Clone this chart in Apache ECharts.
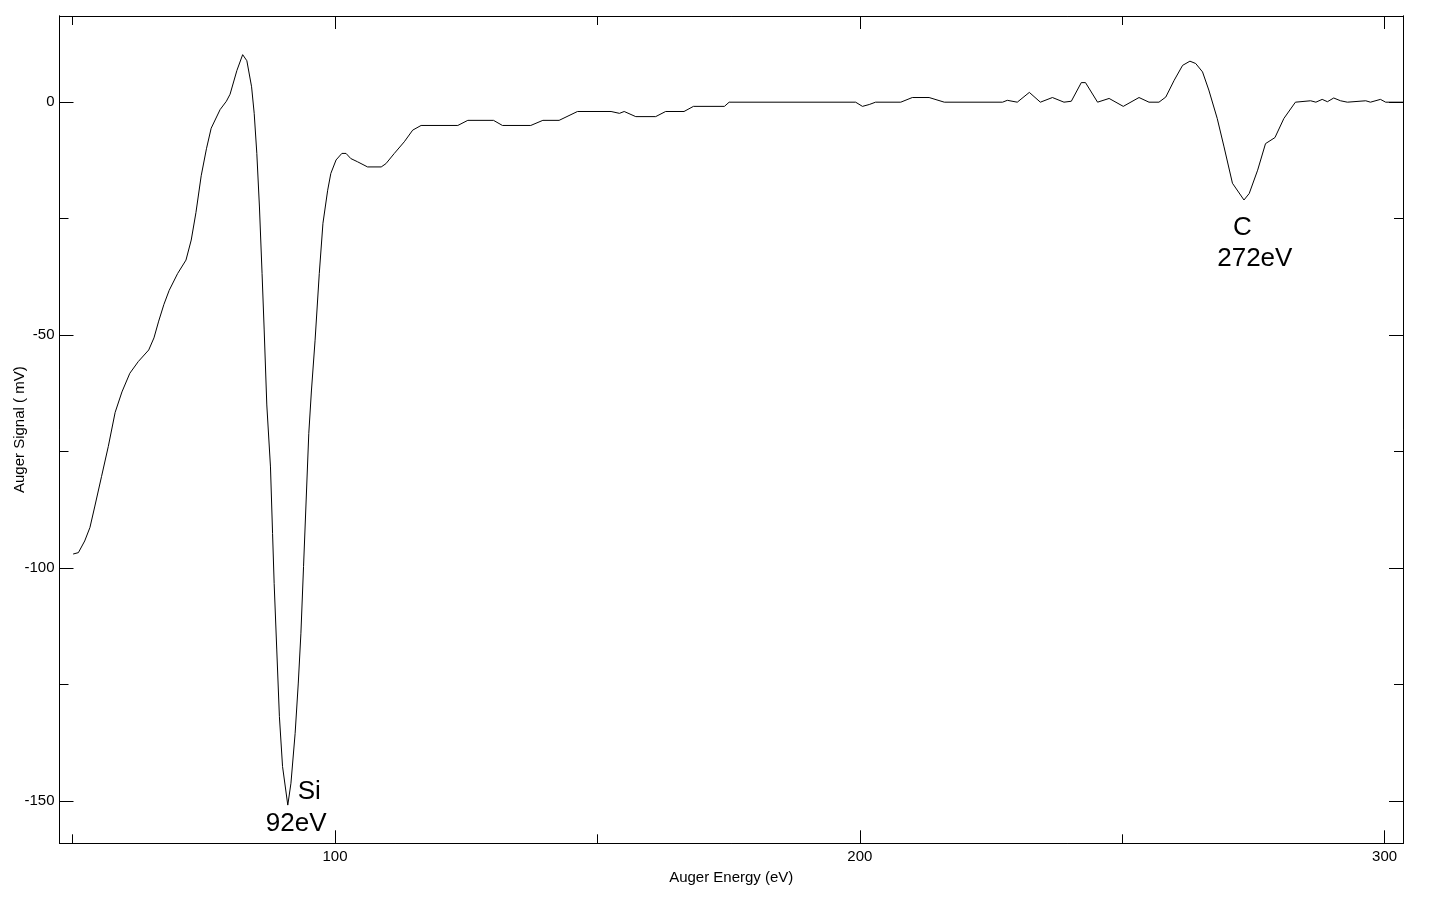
<!DOCTYPE html>
<html>
<head>
<meta charset="utf-8">
<script src="https://cdn.jsdelivr.net/npm/echarts@6/dist/echarts.min.js"></script>
<style>
  html, body { margin: 0; padding: 0; background: #fff; }
  #chart { width: 1454px; height: 924px; }
</style>
</head>
<body>
<div id="chart"></div>
<script>
// Auger energy (eV)
const energy = [
  50.1, 51.1, 52.3, 53.3, 54.2, 55.5, 56.8, 58.1, 59.4, 60.9,
  62.5, 64.5, 65.5, 66.4, 67.4, 68.4, 70.0, 71.6, 72.6, 73.5,
  74.5, 75.5, 76.4, 78.1, 79.3, 80.0, 81.3, 82.4, 83.2, 84.1,
  84.6, 85.1, 85.6, 86.1, 86.5, 87.0, 87.7, 88.1, 88.4, 88.9,
  89.4, 90.0, 91.0, 91.6, 92.4, 93.0, 93.5, 94.0, 94.5, 95.0,
  95.5, 96.2, 97.0, 97.7, 98.6, 99.2, 100.2, 101.3, 102.1, 103.0,
  104.3, 106.2, 108.8, 109.7, 111.3, 113.2, 114.8, 116.4, 123.4, 125.3,
  130.2, 131.9, 137.3, 139.6, 142.7, 146.2, 152.6, 154.2, 155.1, 157.3,
  161.1, 163.0, 166.5, 168.3, 174.2, 175.1, 199.2, 200.5, 201.8, 203.0,
  207.8, 210.0, 213.2, 216.1, 227.2, 228.1, 230.0, 232.3, 234.4, 236.7,
  238.9, 240.3, 242.2, 243.0, 245.3, 247.5, 250.2, 253.2, 255.1, 257.0,
  258.3, 259.9, 261.5, 262.9, 264.0, 265.3, 266.5, 268.1, 269.4, 271.0,
  273.2, 274.2, 275.8, 277.3, 279.1, 280.8, 283.0, 285.9, 286.9, 288.1,
  289.1, 290.3, 291.6, 292.9, 296.4, 297.3, 299.2, 300.2, 303.5
];
// Auger signal (mV)
const signal = [
  -97.0, -96.7, -94.2, -91.3, -86.9, -80.4, -73.9, -66.6, -62.2, -58.2,
  -55.7, -53.2, -50.6, -47.0, -43.4, -40.4, -36.8, -33.9, -29.6, -23.7,
  -15.8, -10.0, -5.6, -1.6, 0.2, 1.7, 6.8, 10.2, 8.9, 3.3,
  -2.4, -11.0, -22.5, -36.8, -48.9, -65.0, -78.3, -92.6, -103.3, -117.6,
  -131.9, -142.6, -150.9, -146.2, -135.5, -124.7, -114.0, -99.7, -85.4, -71.1,
  -62.0, -51.1, -36.8, -26.0, -18.9, -15.3, -12.4, -11.0, -11.0, -12.1,
  -12.8, -13.9, -13.9, -13.2, -11.0, -8.5, -6.0, -5.0, -5.0, -3.9,
  -3.9, -5.0, -5.0, -3.9, -3.9, -2.0, -2.0, -2.4, -2.0, -3.1,
  -3.1, -2.0, -2.0, -0.9, -0.9, 0, 0, -0.9, -0.5, 0,
  0, 1.0, 1.0, 0, 0, 0.4, 0, 2.1, 0, 1.0,
  0, 0.2, 4.2, 4.2, 0, 0.8, -0.9, 1.0, 0, 0,
  1.1, 4.7, 7.9, 8.8, 8.3, 6.5, 2.6, -3.5, -9.6, -17.4,
  -21.0, -19.6, -14.6, -8.9, -7.6, -3.5, 0, 0.3, 0, 0.6,
  0.1, 0.9, 0.3, 0, 0.3, 0, 0.6, 0, 0
];
// Tick values
const xMajorTicks = [100, 200, 300];
const xMinorTicks = [50, 150, 250];
const yMajorTicks = [0, -50, -100, -150];
const yMinorTicks = [-25, -75, -125];
// Peak annotations: [energy, signal, text]
const annotations = [
  [92.9, -148.0, 'Si'],
  [86.8, -154.9, '92eV'],
  [271.1, -27.0, 'C'],
  [268.1, -33.6, '272eV']
];

const X_MIN = 47.5, X_MAX = 303.5, Y_MIN = -159.1, Y_MAX = 18.5;
const FONT = '"Liberation Sans", Arial, sans-serif';
const lineStyle = { color: '#000', width: 1 };

function xAxis(position, ticks, len, labels, extra) {
  return Object.assign({
    type: 'value', position: position, min: X_MIN, max: X_MAX,
    axisLine: { show: true, onZero: false, lineStyle: lineStyle },
    axisTick: { show: true, inside: true, length: len, customValues: ticks, lineStyle: lineStyle },
    axisLabel: labels ? { show: true, customValues: ticks, color: '#000', fontSize: 15, fontFamily: FONT, margin: 6 } : { show: false },
    splitLine: { show: false },
    nameMoveOverlap: false
  }, extra || {});
}
function yAxis(position, ticks, len, labels, extra) {
  return Object.assign({
    type: 'value', position: position, min: Y_MIN, max: Y_MAX,
    axisLine: { show: true, onZero: false, lineStyle: lineStyle },
    axisTick: { show: true, inside: true, length: len, customValues: ticks, lineStyle: lineStyle },
    axisLabel: labels ? { show: true, customValues: ticks, color: '#000', fontSize: 15, fontFamily: FONT, margin: 5 } : { show: false },
    splitLine: { show: false },
    nameMoveOverlap: false
  }, extra || {});
}

const chart = echarts.init(document.getElementById('chart'), null, { renderer: 'canvas' });
chart.setOption({
  animation: false,
  backgroundColor: '#fff',
  grid: { left: 59.5, right: 51, top: 16, bottom: 80.7, containLabel: false, outerBoundsMode: 'none' },
  xAxis: [
    xAxis('bottom', xMajorTicks, 13, true, {
      name: 'Auger Energy (eV)', nameLocation: 'middle', nameGap: 27,
      nameTextStyle: { color: '#000', fontSize: 15, fontFamily: FONT }
    }),
    xAxis('bottom', xMinorTicks, 9, false),
    xAxis('top', xMajorTicks, 13, false),
    xAxis('top', xMinorTicks, 9, false)
  ],
  yAxis: [
    yAxis('left', yMajorTicks, 14, true, {
      name: 'Auger Signal ( mV)', nameLocation: 'middle', nameGap: 32,
      nameTextStyle: { color: '#000', fontSize: 15, fontFamily: FONT }
    }),
    yAxis('left', yMinorTicks, 9, false),
    yAxis('right', yMajorTicks, 14, false),
    yAxis('right', yMinorTicks, 9, false)
  ],
  series: [{
    type: 'line',
    xAxisIndex: 0, yAxisIndex: 0,
    data: energy.map((e, i) => [e, signal[i]]),
    showSymbol: false,
    smooth: false,
    lineStyle: { color: '#000', width: 1 },
    markPoint: {
      symbol: 'circle', symbolSize: 0,
      label: {
        show: true, position: 'right', distance: 0,
        color: '#000', fontSize: 26, fontFamily: FONT,
        formatter: p => p.name
      },
      data: annotations.map(a => ({ name: a[2], coord: [a[0], a[1]] }))
    }
  }]
});
</script>
</body>
</html>
